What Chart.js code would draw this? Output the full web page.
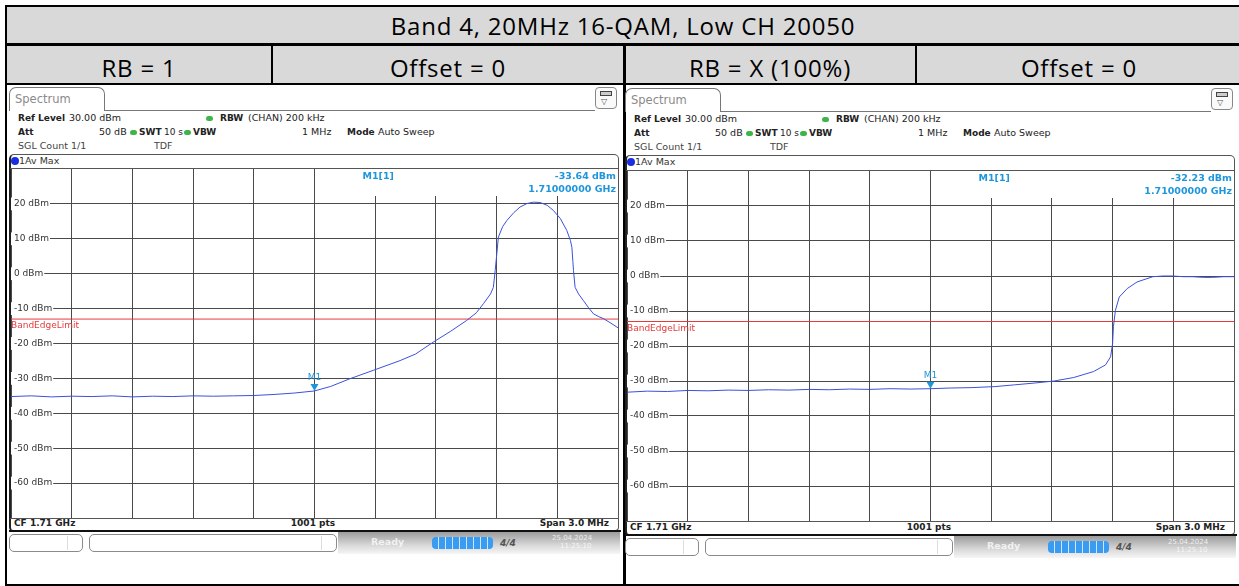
<!DOCTYPE html>
<html>
<head>
<meta charset="utf-8">
<script src="https://cdn.jsdelivr.net/npm/chart.js@4.4.1/dist/chart.umd.min.js"></script>
<style>
  body { margin: 0; width: 1239px; height: 586px; position: relative; overflow: hidden; background: #fff; font-family: "DejaVu Sans", sans-serif; }
  div, span, canvas { position: absolute; box-sizing: border-box; }
  .hdr { font-family: "Open Sans", sans-serif; font-size: 24px; letter-spacing: 0.8px; line-height: 32px; color: #000; white-space: nowrap; text-align: center; }
  .t { white-space: nowrap; font-size: 9.5px; color: #222; line-height: 12px; }
  .b { font-weight: bold; font-size: 9px; }
</style>
</head>
<body>
<script>
// trace of the left screenshot (RB = 1), x = offset from CF 1.71 GHz in kHz, y = dBm
const freqLeft = [-1500, -1400, -1300, -1200, -1100, -1000, -900, -800, -700, -600, -500, -400, -300, -200, -100,
  0, 80, 175, 290, 423, 500, 587, 670, 752, 800, 835, 870, 884, 893, 901, 909, 930, 950, 985, 1016, 1050,
  1082, 1115, 1150, 1181, 1215, 1247, 1265, 1272, 1277, 1280, 1288, 1305, 1329, 1355, 1379, 1405, 1429, 1460, 1500];
const levelLeft = [-35.2, -35.0, -35.3, -35.1, -35.2, -35.0, -35.3, -35.1, -35.2, -35.0, -35.1, -35.0, -34.9, -34.6, -34.2,
  -33.6, -32.3, -30.1, -27.7, -24.9, -23.0, -19.6, -16.6, -13.4, -11.2, -8.6, -5.8, -3.9, 0.9, 5.7, 10.5, 13.5, 15.2, 17.5, 19.1, 20.1,
  20.5, 20.4, 19.6, 18.1, 15.8, 12.4, 9.5, 7.6, 3.5, 0.9, -3.9, -5.8, -7.7, -9.8, -11.5, -12.3, -12.9, -14.0, -15.5];

// trace of the right screenshot (RB = X 100%)
const freqRight = [-1500, -1400, -1300, -1200, -1100, -1000, -900, -800, -700, -600, -500, -400, -300, -200, -100,
  0, 100, 200, 318, 415, 511, 611, 708, 806, 865, 890, 900, 904, 914, 933, 972, 1021, 1099, 1150, 1197, 1250, 1295, 1350, 1393, 1450, 1500];
const levelRight = [-33.2, -32.9, -33.0, -32.7, -32.8, -32.6, -32.7, -32.5, -32.6, -32.4, -32.5, -32.3, -32.4, -32.2, -32.3,
  -32.2, -32.0, -31.9, -31.6, -31.1, -30.6, -30.0, -29.0, -27.3, -25.4, -23.1, -19.3, -14.5, -9.8, -6.0, -3.6, -1.7, -0.2, 0.0, 0.0, -0.2, -0.2, -0.4, -0.4, -0.2, -0.2];

const limitLevel = -13;               // BandEdgeLimit
const markerLevels = ['-33.64 dBm', '-32.23 dBm'];
const markerValues = [-33.64, -32.23];
const markerFreq = '1.71000000 GHz';
const yRange = [-70, 30];
const spanKHz = [-1500, 1500];

const title = 'Band 4, 20MHz 16-QAM, Low CH 20050';
const cellLabels = ['RB = 1', 'Offset = 0', 'RB = X (100%)', 'Offset = 0'];
const cellCenters = [139, 448, 770, 1079];

function el(style, text, cls) {
  const d = document.createElement('div');
  if (cls) d.className = cls;
  for (const k in style) d.style[k] = typeof style[k] === 'number' ? style[k] + 'px' : style[k];
  if (text != null) d.textContent = text;
  document.body.appendChild(d);
  return d;
}

// ---- table frame ----
el({ left: 5, top: 5, width: 1240, height: 40, background: '#d9d9d9' });
el({ left: 5, top: 46, width: 1240, height: 38, background: '#d9d9d9' });
el({ left: 5, top: 5, width: 1240, height: 2, background: '#000' });
el({ left: 5, top: 43, width: 1240, height: 3, background: '#000' });
el({ left: 5, top: 83, width: 1240, height: 2, background: '#000' });
el({ left: 5, top: 584, width: 1240, height: 2, background: '#000' });
el({ left: 5, top: 5, width: 2, height: 581, background: '#000' });
el({ left: 271, top: 45, width: 2, height: 39, background: '#000' });
el({ left: 915, top: 45, width: 2, height: 39, background: '#000' });
el({ left: 623, top: 45, width: 3, height: 541, background: '#000' });
el({ left: 5, top: 10, width: 1236, height: 32 }, title, 'hdr');
cellLabels.forEach((s, i) => el({ left: cellCenters[i] - 150, top: 52, width: 300, height: 32 }, s, 'hdr'));

function txt(x, y, s, extra, cls) {
  return el(Object.assign({ left: x, top: y - 6 }, extra || {}), s, 't' + (cls ? ' ' + cls : ''));
}

function buildPanel(dx, dy, plotTop, plotH, fy, freq, level, idx) {
  // tab + icon
  el({ left: 9 + dx, top: 87 + dy, width: 96, height: 24, border: '1px solid #777', borderBottom: 'none', borderRadius: '7px 7px 0 0', background: '#fff' });
  txt(15 + dx, 99 + dy, 'Spectrum', { fontSize: '11.5px', color: '#8a8a8a' });
  el({ left: 104 + dx, top: 110 + dy, width: 491, height: 1, background: '#777' });
  el({ left: 595 + dx, top: 87 + dy, width: 22, height: 22, border: '1px solid #888', borderRadius: '4px', background: '#fafafa' });
  el({ left: 600 + dx, top: 91 + dy, width: 12, height: 5, border: '1px solid #444', background: '#ccc' });
  txt(601 + dx, 102 + dy, '\u25BD', { fontSize: '8px', color: '#555' });

  // settings
  const dot = (x, y) => el({ left: x + dx, top: y + dy - 2.5, width: 7, height: 5, borderRadius: '3px', background: '#3db54a' });
  let y = 118 + dy;
  txt(18 + dx, y, 'Ref Level', null, 'b'); txt(69 + dx, y, '30.00 dBm');
  dot(206, 118); txt(220 + dx, y, 'RBW', null, 'b'); txt(248 + dx, y, '(CHAN) 200 kHz');
  y = 132 + dy;
  txt(18 + dx, y, 'Att', null, 'b'); txt(99 + dx, y, '50 dB');
  dot(130, 132); txt(139 + dx, y, 'SWT', null, 'b'); txt(164 + dx, y, '10 s', { fontSize: '9px' });
  dot(184, 132); txt(193 + dx, y, 'VBW', null, 'b'); txt(302 + dx, y, '1 MHz');
  txt(347 + dx, y, 'Mode', null, 'b'); txt(378 + dx, y, 'Auto Sweep');
  y = 146 + dy;
  txt(18 + dx, y, 'SGL Count 1/1', { color: '#444' }); txt(154 + dx, y, 'TDF', { color: '#444' });

  // trace frame
  el({ left: 9 + dx, top: 154 + dy, width: 610, height: 377 + fy - dy, border: '1px solid #555', borderLeft: '2px solid #222', borderRadius: '5px 5px 4px 4px' });
  el({ left: 11 + dx, top: 157 + dy, width: 8, height: 8, borderRadius: '4px', background: '#1a2de0' });
  txt(19 + dx, 161 + dy, '1Av Max', { fontSize: '9.5px', color: '#333' });
  el({ left: 10 + dx, top: plotTop - 1, width: 608, height: 1, background: '#555' });
  el({ left: 10 + dx, top: plotTop + plotH, width: 608, height: 1, background: '#555' });
  txt(14 + dx, 523 + fy, 'CF 1.71 GHz', null, 'b');
  txt(263 + dx, 523 + fy, '1001 pts', { width: '100px', textAlign: 'center' }, 'b');
  txt(409 + dx, 523 + fy, 'Span 3.0 MHz', { width: '200px', textAlign: 'right' }, 'b');
  el({ left: 9 + dx, top: 530 + fy, width: 612, height: 2, background: '#111' });

  // status bar
  el({ left: 338 + dx, top: 532 + fy, width: 282, height: 22, background: 'linear-gradient(#9c9c9c, #d8d8d8 60%, #f6f6f6)' });
  el({ left: 9 + dx, top: 534 + fy, width: 74, height: 18, border: '1px solid #8a8a8a', borderRadius: '5px', background: '#fff' });
  el({ left: 67 + dx, top: 536 + fy, width: 1, height: 14, background: '#ddd' });
  el({ left: 89 + dx, top: 534 + fy, width: 248, height: 18, border: '1px solid #8a8a8a', borderRadius: '5px', background: '#fff' });
  el({ left: 321 + dx, top: 536 + fy, width: 1, height: 14, background: '#ddd' });
  txt(371 + dx, 542 + fy, 'Ready', { color: 'rgba(255,255,255,0.75)', fontWeight: 'bold' });
  el({ left: 432 + dx, top: 537 + fy, width: 61, height: 12, borderRadius: '4px', background: 'repeating-linear-gradient(to right, #3a9cf0 0 6px, #cfe6fb 6px 7px)' });
  txt(500 + dx, 543 + fy, '4/4', { fontSize: '9px', fontWeight: 'bold', fontStyle: 'italic', color: '#555' });
  txt(552 + dx, 538 + fy, '25.04.2024', { fontSize: '7px', color: 'rgba(255,255,255,0.8)' });
  txt(560 + dx, 546 + fy, '11:25:10', { fontSize: '7px', color: 'rgba(255,255,255,0.8)' });

  // chart
  const c = document.createElement('canvas');
  c.width = 607; c.height = plotH;
  c.style.left = (11 + dx) + 'px'; c.style.top = plotTop + 'px';
  c.style.width = '607px'; c.style.height = plotH + 'px';
  document.body.appendChild(c);

  const overlay = {
    id: 'overlay',
    beforeDatasetsDraw(chart) {
      const { ctx, chartArea: a, scales: { x, y } } = chart;
      const cx = x.getPixelForValue(0);
      ctx.save();
      ctx.fillStyle = '#fff';
      ctx.fillRect(cx + 1.5, a.top, a.right - cx - 1.5, 27);
      ctx.fillStyle = '#1e96dc';
      ctx.font = 'bold 9.5px "DejaVu Sans"';
      ctx.textBaseline = 'middle';
      ctx.textAlign = 'left';
      ctx.fillText('M1[1]', cx + 48, a.top + 8);
      ctx.textAlign = 'right';
      ctx.fillText(markerLevels[idx], a.right - 2, a.top + 8);
      ctx.fillText(markerFreq, a.right - 2, a.top + 21);
      ctx.fillStyle = '#e53b3b';
      ctx.font = '9px "DejaVu Sans"';
      ctx.textAlign = 'left';
      ctx.fillText('BandEdgeLimit', a.left, y.getPixelForValue(limitLevel) + 7);
      ctx.restore();
    },
    afterDatasetsDraw(chart) {
      const { ctx, scales: { x, y } } = chart;
      const mx = x.getPixelForValue(0), my = y.getPixelForValue(markerValues[idx]);
      ctx.save();
      ctx.fillStyle = '#1e96dc';
      ctx.beginPath();
      ctx.moveTo(mx - 4, my - 7); ctx.lineTo(mx + 4, my - 7); ctx.lineTo(mx, my);
      ctx.closePath(); ctx.fill();
      ctx.font = '9px "DejaVu Sans"';
      ctx.textAlign = 'center';
      ctx.textBaseline = 'middle';
      ctx.fillText('M1', mx, my - 13);
      ctx.restore();
    }
  };

  new Chart(c, {
    type: 'line',
    data: {
      datasets: [
        { data: freq.map((f, i) => ({ x: f, y: level[i] })), borderColor: '#3c50dc', borderWidth: 1, pointRadius: 0, tension: 0, order: 0 },
        { data: spanKHz.map(f => ({ x: f, y: limitLevel })), borderColor: '#e53b3b', borderWidth: 1, pointRadius: 0, order: 1 }
      ]
    },
    options: {
      responsive: false,
      animation: false,
      devicePixelRatio: 1,
      layout: { padding: 0 },
      plugins: { legend: { display: false }, tooltip: { enabled: false } },
      scales: {
        x: {
          type: 'linear', min: spanKHz[0], max: spanKHz[1],
          ticks: { display: false, stepSize: 300 },
          grid: { color: '#4a4a4a', drawTicks: false },
          border: { display: false }
        },
        y: {
          min: yRange[0], max: yRange[1],
          ticks: {
            stepSize: 10, mirror: true, padding: 3, color: '#333',
            font: { family: 'DejaVu Sans', size: 9 },
            showLabelBackdrop: true, backdropColor: '#fff', backdropPadding: { left: 4, right: 1, top: 1, bottom: 1 },
            callback: v => (v === yRange[0] || v === yRange[1]) ? null : v + ' dBm'
          },
          grid: { color: '#4a4a4a', drawTicks: false },
          border: { display: false },
          afterFit(s) { s.width = 0; s.paddingTop = 0; s.paddingBottom = 0; }
        }
      }
    },
    plugins: [overlay]
  });
}

buildPanel(0, 0, 169, 349, 0, freqLeft, levelLeft, 0);
buildPanel(616, 1, 171, 350, 4, freqRight, levelRight, 1);
</script>
</body>
</html>
